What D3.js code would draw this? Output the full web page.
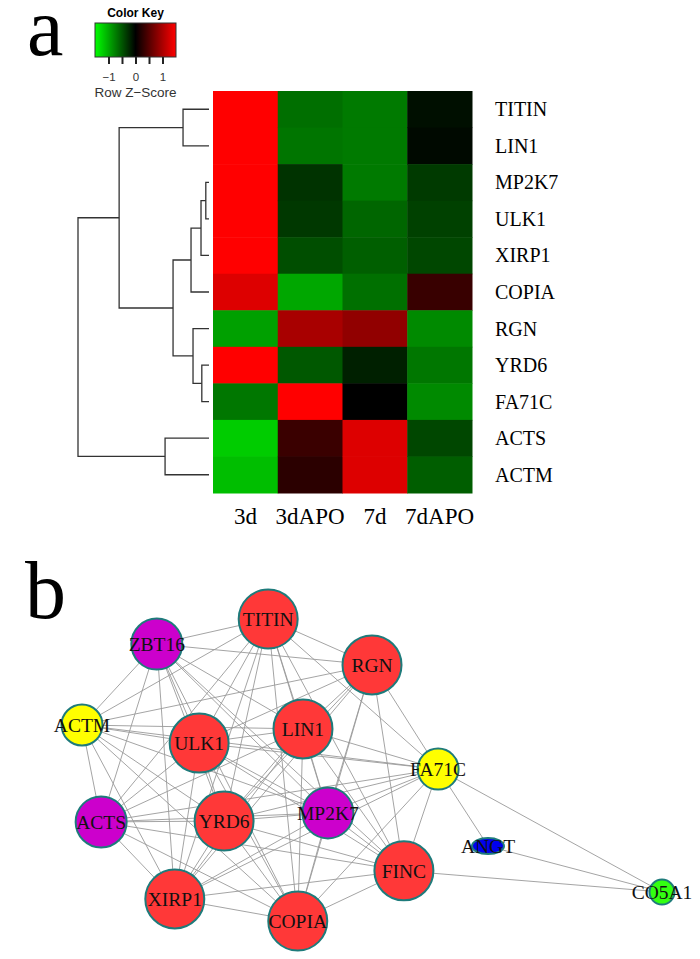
<!DOCTYPE html>
<html>
<head>
<meta charset="utf-8">
<script src="https://cdn.jsdelivr.net/npm/d3@7"></script>
<style>
  body { margin: 0; background: #fff; }
  svg { display: block; }
</style>
</head>
<body>
<div id="chart"></div>
<script>
const columns = ["3d", "3dAPO", "7d", "7dAPO"];
const genes = ["TITIN", "LIN1", "MP2K7", "ULK1", "XIRP1", "COPIA", "RGN", "YRD6", "FA71C", "ACTS", "ACTM"];
const z3d    = [1.5, 1.5, 1.5, 1.5, 1.5, 1.3, -0.94, 1.5, -0.7, -1.2, -1.12];
const z3dAPO = [-0.65, -0.69, -0.3, -0.33, -0.46, -0.98, 0.99, -0.52, 1.5, 0.34, 0.25];
const z7d    = [-0.72, -0.72, -0.72, -0.6, -0.56, -0.66, 0.85, -0.19, 0, 1.3, 1.3];
const z7dAPO = [-0.09, -0.05, -0.34, -0.38, -0.42, 0.33, -0.81, -0.7, -0.81, -0.42, -0.55];
const keyTicks = [-1, -0.5, 0, 0.5, 1];
const keyLabels = [-1, 0, 1];

// row dendrogram (merge heights)
const rowTree = {h: 3.28, children: [
  {h: 2.25, children: [
    {h: 0.65, children: [{name: "TITIN"}, {name: "LIN1"}]},
    {h: 0.9, children: [
      {h: 0.45, children: [
        {h: 0.2, children: [{h: 0.08, children: [{name: "MP2K7"}, {name: "ULK1"}]}, {name: "XIRP1"}]},
        {name: "COPIA"}]},
      {h: 0.4, children: [{name: "RGN"}, {h: 0.18, children: [{name: "YRD6"}, {name: "FA71C"}]}]}
    ]}
  ]},
  {h: 1.1, children: [{name: "ACTS"}, {name: "ACTM"}]}
]};

// network data
const nodeNames = ["TITIN", "ZBT16", "ACTM", "ULK1", "LIN1", "ACTS", "YRD6", "MP2K7", "XIRP1", "COPIA", "RGN", "FA71C", "FINC", "ANGT", "CO5A1"];
const nodeGroup = ["hub", "mid", "low", "hub", "hub", "mid", "hub", "mid", "hub", "hub", "hub", "low", "hub", "min", "tail"];
const layoutX = [32.1, 12.9, 0, 20.2, 38.1, 3.3, 24.5, 42.4, 16.0, 37.2, 50.0, 61.4, 55.5, 70.0, 100];
const layoutY = [0, 8.3, 35.1, 41.1, 36.4, 67.2, 66.9, 64.2, 92.7, 100, 15.2, 49.7, 83.4, 75.2, 90.4];
const adjacency = {
  TITIN: "ZBT16 ACTM ULK1 LIN1 ACTS YRD6 MP2K7 XIRP1 COPIA RGN FINC FA71C",
  ZBT16: "ACTM ULK1 LIN1 ACTS YRD6 MP2K7 XIRP1 COPIA RGN FINC",
  ACTM: "ULK1 LIN1 ACTS YRD6 MP2K7 XIRP1 COPIA RGN FA71C",
  ULK1: "LIN1 ACTS YRD6 MP2K7 XIRP1 COPIA RGN FINC FA71C",
  LIN1: "ACTS YRD6 MP2K7 XIRP1 COPIA RGN FINC FA71C",
  ACTS: "YRD6 MP2K7 XIRP1 COPIA FINC FA71C",
  YRD6: "MP2K7 XIRP1 COPIA RGN FINC FA71C",
  MP2K7: "XIRP1 COPIA RGN FINC FA71C",
  XIRP1: "COPIA RGN FINC FA71C",
  COPIA: "RGN FINC FA71C",
  RGN: "FINC FA71C",
  FINC: "FA71C CO5A1",
  FA71C: "ANGT CO5A1",
  ANGT: "CO5A1"
};

const W = 700, H = 959;
const serif = "'Liberation Serif', 'Times New Roman', serif";
const sans = "'Liberation Sans', Arial, sans-serif";

const svg = d3.select("#chart").append("svg").attr("width", W).attr("height", H);

// ---------- panel a ----------
svg.append("text").attr("x", 27).attr("y", 55)
  .attr("font-family", serif).attr("font-size", 82).text("a");

const x = d3.scaleBand().domain(columns).range([213, 472]);
const y = d3.scaleBand().domain(genes).range([91, 493]);
const color = d3.scaleLinear().domain([-1.5, 0, 1.5]).range(["#00ff00", "#000000", "#ff0000"]).clamp(true);

const series = [z3d, z3dAPO, z7d, z7dAPO];
const cells = [];
columns.forEach((c, j) => genes.forEach((g, i) => cells.push({col: c, gene: g, v: series[j][i]})));

svg.append("g").selectAll("rect").data(cells).join("rect")
  .attr("x", d => x(d.col)).attr("y", d => y(d.gene))
  .attr("width", x.bandwidth() + 0.5).attr("height", y.bandwidth() + 0.5)
  .attr("fill", d => color(d.v));

svg.append("g").selectAll("text").data(genes).join("text")
  .attr("x", 495).attr("y", d => y(d) + y.bandwidth() / 2)
  .attr("dy", "0.35em")
  .attr("font-family", serif).attr("font-size", 20).text(d => d);

svg.append("g").selectAll("text").data(columns).join("text")
  .attr("x", d => x(d) + x.bandwidth() / 2).attr("y", 524)
  .attr("text-anchor", "middle")
  .attr("font-family", serif).attr("font-size", 23).text(d => d);

// dendrogram
const root = d3.hierarchy(rowTree);
const hx = d3.scaleLinear().domain([0, rowTree.h]).range([209, 78]);
root.eachAfter(n => {
  n.py = n.children ? (n.children[0].py + n.children[n.children.length - 1].py) / 2
                    : y(n.data.name) + y.bandwidth() / 2;
  n.px = hx(n.data.h || 0);
});
svg.append("g").selectAll("path").data(root.descendants().filter(n => n.children)).join("path")
  .attr("fill", "none").attr("stroke", "#333").attr("stroke-width", 1.3)
  .attr("d", n => {
    const [a, b] = n.children;
    return `M${a.px},${a.py}H${n.px}V${b.py}H${b.px}`;
  });

// colour key
const kx = d3.scaleLinear().domain([-1.5, 1.5]).range([95, 176]);
const grad = svg.append("defs").append("linearGradient").attr("id", "keygrad");
grad.selectAll("stop").data([-1.5, 0, 1.5]).join("stop")
  .attr("offset", d => ((d + 1.5) / 3 * 100) + "%")
  .attr("stop-color", d => color(d));
svg.append("rect").attr("x", kx(-1.5)).attr("y", 23)
  .attr("width", kx(1.5) - kx(-1.5)).attr("height", 34)
  .attr("fill", "url(#keygrad)").attr("stroke", "#333").attr("stroke-width", 1);
svg.append("text").attr("x", kx(0)).attr("y", 17).attr("text-anchor", "middle")
  .attr("font-family", sans).attr("font-weight", "bold").attr("font-size", 12).text("Color Key");
const keyAxis = svg.append("g").attr("transform", "translate(0,57)")
  .call(d3.axisBottom(kx).tickValues(keyTicks).tickSize(7)
    .tickFormat(d => keyLabels.includes(d) ? d3.format("d")(d).replace("-", "\u2212") : ""));
keyAxis.select(".domain").remove();
keyAxis.selectAll(".tick line").attr("stroke", "#222").attr("stroke-width", 2);
keyAxis.selectAll(".tick text").attr("font-family", sans).attr("font-size", 11.5)
  .attr("fill", "#333").attr("dy", "1.2em");
svg.append("text").attr("x", kx(0)).attr("y", 97).attr("text-anchor", "middle")
  .attr("font-family", sans).attr("font-size", 13.5).attr("fill", "#333").text("Row Z\u2212Score");

// ---------- panel b ----------
svg.append("text").attr("x", 25).attr("y", 618)
  .attr("font-family", serif).attr("font-size", 82).text("b");

const nx = d3.scaleLinear().domain([0, 100]).range([82, 662]);
const ny = d3.scaleLinear().domain([0, 100]).range([619, 921]);
const fill = d3.scaleOrdinal().domain(["hub", "mid", "low", "min", "tail"])
  .range(["#ff3838", "#cc00cc", "#ffff00", "#0000ee", "#33ff11"]);
const rx = d3.scaleOrdinal().domain(["hub", "mid", "low", "min", "tail"]).range([29.5, 25.5, 20.5, 16, 12.5]);
const ry = d3.scaleOrdinal().domain(["hub", "mid", "low", "min", "tail"]).range([29.5, 25.5, 20.5, 8, 12.5]);

const nodes = nodeNames.map((n, i) => ({name: n, group: nodeGroup[i], x: nx(layoutX[i]), y: ny(layoutY[i])}));
const byName = new Map(nodes.map(n => [n.name, n]));
const links = [];
Object.entries(adjacency).forEach(([s, list]) =>
  list.split(" ").forEach(t => links.push({source: byName.get(s), target: byName.get(t)})));

svg.append("g").selectAll("line").data(links).join("line")
  .attr("x1", d => d.source.x).attr("y1", d => d.source.y)
  .attr("x2", d => d.target.x).attr("y2", d => d.target.y)
  .attr("stroke", "#9a9a9a").attr("stroke-width", 0.9);

const ng = svg.append("g").selectAll("g").data(nodes).join("g")
  .attr("transform", d => `translate(${d.x},${d.y})`);
ng.append("ellipse")
  .attr("rx", d => rx(d.group)).attr("ry", d => ry(d.group))
  .attr("fill", d => fill(d.group)).attr("stroke", "#1e7b7b").attr("stroke-width", 2);
ng.append("text").attr("text-anchor", "middle").attr("dy", "0.35em")
  .attr("font-family", serif).attr("font-size", 19.5).attr("fill", "#111")
  .text(d => d.name);
</script>
</body>
</html>
